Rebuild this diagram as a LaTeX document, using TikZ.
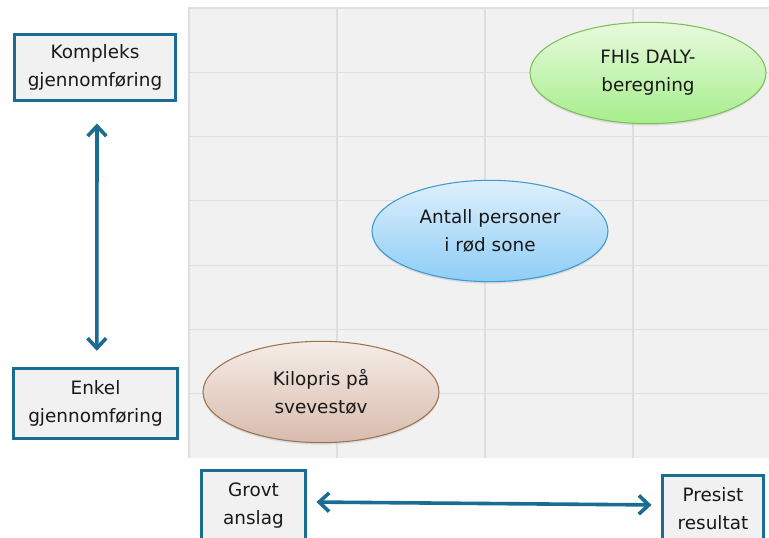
\documentclass[tikz,border=0pt]{standalone}
\usepackage{fontspec}
\setmainfont{DejaVu Sans}
\usetikzlibrary{shapes.geometric, arrows.meta, shadows}

\definecolor{akse}{HTML}{1B6C92}
\definecolor{rute}{HTML}{F1F1F1}
\definecolor{linje}{HTML}{DEDEDE}
\definecolor{gronnTopp}{HTML}{E8FADD}
\definecolor{gronnBunn}{HTML}{A6EE8C}
\definecolor{gronnKant}{HTML}{7FBF5A}
\definecolor{blaTopp}{HTML}{DEF0FC}
\definecolor{blaBunn}{HTML}{8ECDF7}
\definecolor{blaKant}{HTML}{3E9BCB}
\definecolor{brunTopp}{HTML}{F5ECE7}
\definecolor{brunBunn}{HTML}{D8BCAD}
\definecolor{brunKant}{HTML}{9C7450}

\tikzset{
  felt/.style={draw=akse, line width=2.5pt, fill=rute, align=center,
    font=\fontsize{13.8}{21}\selectfont, text=black!90},
  boble/.style={ellipse, draw, line width=0.8pt, align=center,
    minimum width=177pt, minimum height=76pt,
    font=\fontsize{13.8}{21}\selectfont, text=black!90,
    drop shadow={shadow xshift=0pt, shadow yshift=-1.5pt, opacity=0.2}},
  pil/.style={{Straight Barb[length=7.5pt,width=14pt]}-{Straight Barb[length=7.5pt,width=14pt]},
    draw=akse, line width=2.7pt, line join=round, line cap=round}
}

\begin{document}
\begin{tikzpicture}[x=0.75pt, y=-0.75pt]
        % Ramme for bildet (769 x 538 px)
        \clip (0,0) rectangle (769,538);
        \fill[white] (0,0) rectangle (769,538);

        % Rutenett
        \def\rad{64.29}
        \fill[rute] (189,8) rectangle (781,458);
        \foreach \x in {337,485,633}
          \draw[linje, line width=0.9pt] (\x,8) -- (\x,458);
        \foreach \i in {1,...,6}
          \draw[linje, line width=0.9pt] (189,{8+\i*\rad}) -- (781,{8+\i*\rad});
        \draw[linje, line width=0.9pt] (189,458) -- (189,8) -- (781,8);

        % Bobler
        \node[boble, draw=gronnKant, top color=gronnTopp, bottom color=gronnBunn]
          (daly) at (648,73) {FHIs DALY-\\beregning};
        \node[boble, draw=blaKant, top color=blaTopp, bottom color=blaBunn]
          (rod) at (490,231) {Antall personer\\i rød sone};
        \node[boble, draw=brunKant, top color=brunTopp, bottom color=brunBunn]
          (kilo) at (321,392) {Kilopris på\\svevestøv};

        % Akser
        \node[felt, minimum width=120.75pt, minimum height=49.5pt] (komp) at (95,67.5) {Kompleks\\gjennomføring};
        \node[felt, minimum width=123pt, minimum height=52.5pt] (enkel) at (95.5,403.5) {Enkel\\gjennomføring};
        \node[felt, minimum width=78pt, minimum height=53.25pt] (grovt) at (253.5,506) {Grovt\\anslag};
        \node[felt, minimum width=75.75pt, minimum height=50.25pt] (presis) at (713,509) {Presist\\resultat};

        \draw[pil, shorten <=16pt, shorten >=12pt] ([xshift=1.5pt]komp.south) -- ([xshift=1pt]enkel.north);
        \draw[pil, shorten <=7pt, shorten >=7pt] ([yshift=3pt]grovt.east) -- ([yshift=3pt]presis.west);
      \end{tikzpicture}
\end{document}
